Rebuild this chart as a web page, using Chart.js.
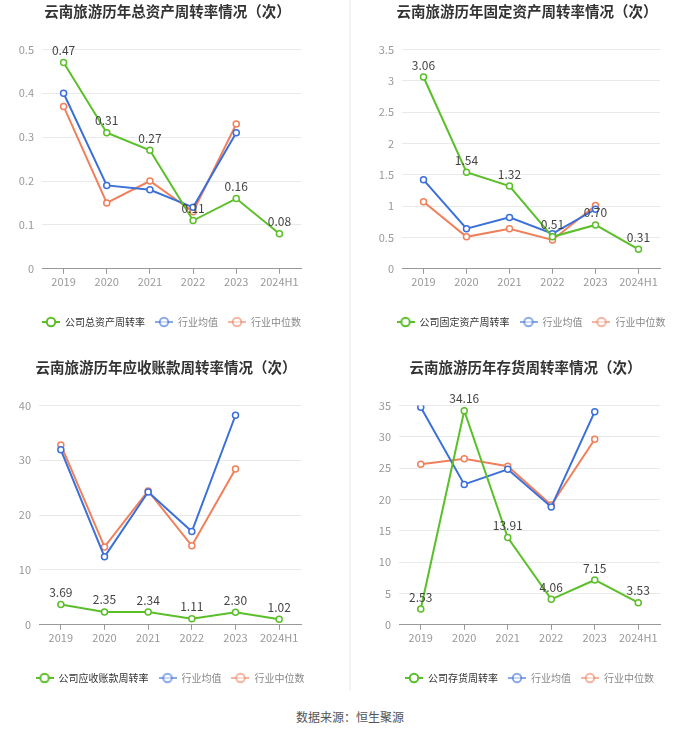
<!DOCTYPE html>
<html>
<head>
<meta charset="utf-8">
<script src="https://cdn.jsdelivr.net/npm/chart.js@4.4.1/dist/chart.umd.min.js"></script>
<style>
  body { margin: 0; background: #fff; width: 700px; height: 734px; position: relative; overflow: hidden;
         font-family: "Noto Sans CJK SC", sans-serif; }
  .box { position: absolute; width: 350px; height: 345px; }
  .sep { position: absolute; background: #f3f3f3; }
  #src { position: absolute; top: 708px; left: 0; width: 700px; text-align: center; font-size: 12px; color: #555; }
</style>
</head>
<body>
<div class="sep" style="left:349px;top:0;width:2px;height:690px"></div>
<div class="box" style="left:0;top:0"><canvas id="c1" width="350" height="345"></canvas></div>
<div class="box" style="left:350px;top:0"><canvas id="c2" width="350" height="345"></canvas></div>
<div class="box" style="left:0;top:356px"><canvas id="c3" width="350" height="345"></canvas></div>
<div class="box" style="left:350px;top:356px"><canvas id="c4" width="350" height="345"></canvas></div>
<div id="src">数据来源：恒生聚源</div>
<script>
const years = ['2019', '2020', '2021', '2022', '2023', '2024H1'];

// 总资产周转率
const assetCo  = [0.47, 0.31, 0.27, 0.11, 0.16, 0.08];
const assetAvg = [0.40, 0.19, 0.18, 0.14, 0.31, null];
const assetMed = [0.37, 0.15, 0.20, 0.13, 0.33, null];

// 固定资产周转率
const fixedCo  = [3.06, 1.54, 1.32, 0.51, 0.70, 0.31];
const fixedAvg = [1.42, 0.64, 0.82, 0.56, 0.95, null];
const fixedMed = [1.07, 0.51, 0.64, 0.46, 1.01, null];

// 应收账款周转率
const recvCo  = [3.69, 2.35, 2.34, 1.11, 2.30, 1.02];
const recvAvg = [31.9, 12.4, 24.2, 17.0, 38.2, null];
const recvMed = [32.8, 14.2, 24.4, 14.4, 28.4, null];

// 存货周转率
const invCo  = [2.53, 34.16, 13.91, 4.06, 7.15, 3.53];
const invAvg = [34.7, 22.4, 24.8, 18.8, 34.0, null];
const invMed = [25.6, 26.5, 25.3, 19.1, 29.6, null];

const GREEN = '#5bbf2a', BLUE = '#3b6fd9', ORANGE = '#f0805b';
const FONT = '"Noto Sans CJK SC", sans-serif';

function legendIcon(color, alpha) {
  const c = document.createElement('canvas');
  c.width = 18; c.height = 12;
  const g = c.getContext('2d');
  g.globalAlpha = alpha;
  g.strokeStyle = color; g.lineWidth = 2;
  g.beginPath(); g.moveTo(0, 6); g.lineTo(18, 6); g.stroke();
  g.beginPath(); g.arc(9, 6, 4.2, 0, Math.PI * 2);
  g.fillStyle = '#fff'; g.fill(); g.stroke();
  return c;
}

const valueLabels = {
  id: 'valueLabels',
  afterDatasetsDraw(chart) {
    const ctx = chart.ctx;
    const meta = chart.getDatasetMeta(0);
    const vals = chart.data.datasets[0].data;
    ctx.save();
    ctx.font = '12px ' + FONT;
    ctx.fillStyle = '#444';
    ctx.textAlign = 'center';
    ctx.textBaseline = 'middle';
    meta.data.forEach((pt, i) => {
      ctx.fillText(vals[i].toFixed(2), pt.x, pt.y - 12);
    });
    ctx.restore();
  }
};

// legend and title are centred on the plot, not on the whole canvas
const centreBoxes = {
  id: 'centreBoxes',
  afterLayout(chart) {
    const a = chart.chartArea;
    const lg = chart.legend, tt = chart.titleBlock;
    const d = (a.left + a.right) / 2 - (lg.left + lg.right) / 2;
    lg.left += d; lg.right += d;
    tt.left += d - 4; tt.right += d - 4;
  }
};

function makeChart(id, title, coName, co, avg, med, max, step, leftW, rightPad) {
  const ds = (label, data, color) => ({
    label: label, data: data, borderColor: color, backgroundColor: '#fff',
    borderWidth: 2, pointRadius: 3, pointBorderWidth: 1.5, pointHoverRadius: 3,
    tension: 0, spanGaps: false
  });
  const icons = [legendIcon(GREEN, 1), legendIcon(BLUE, 0.6), legendIcon(ORANGE, 0.6)];
  new Chart(document.getElementById(id), {
    type: 'line',
    data: {
      labels: years,
      datasets: [ds(coName, co, GREEN), ds('行业均值', avg, BLUE), ds('行业中位数', med, ORANGE)]
    },
    options: {
      responsive: false,
      animation: false,
      layout: { padding: { left: 0, right: rightPad, top: 0, bottom: 8 } },
      plugins: {
        title: {
          display: true, text: title, color: '#333',
          font: { size: 14.5, weight: 'bold', family: FONT },
          padding: { top: 3, bottom: 29 }
        },
        legend: {
          position: 'bottom',
          labels: {
            usePointStyle: true, pointStyleWidth: 18, padding: 10,
            font: { size: 10, family: FONT },
            generateLabels(chart) {
              return chart.data.datasets.map((d, i) => ({
                text: d.label, pointStyle: icons[i], datasetIndex: i,
                fontColor: i === 0 ? '#333' : '#888', lineWidth: 0,
                strokeStyle: 'transparent', fillStyle: 'transparent'
              }));
            }
          }
        },
        tooltip: { enabled: false }
      },
      scales: {
        x: {
          offset: true,
          afterFit(s) { s.height += 18; },
          grid: { display: true, drawOnChartArea: false, drawTicks: true, tickLength: 5, offset: false, color: '#999' },
          border: { display: true, color: '#999' },
          ticks: { color: '#999', font: { size: 11, family: FONT }, padding: 1,
                   maxRotation: 0, minRotation: 0, autoSkip: false }
        },
        y: {
          min: 0, max: max,
          afterFit(s) { s.width = leftW; },
          grid: { color: '#e9e9e9', drawTicks: false },
          border: { display: false },
          ticks: { stepSize: step, color: '#999', font: { size: 11, family: FONT }, padding: 8,
                   callback: v => String(+v.toFixed(2)) }
        }
      }
    },
    plugins: [valueLabels, centreBoxes]
  });
}

makeChart('c1', '云南旅游历年总资产周转率情况（次）', '公司总资产周转率', assetCo, assetAvg, assetMed, 0.5, 0.1, 42, 49);
makeChart('c2', '云南旅游历年固定资产周转率情况（次）', '公司固定资产周转率', fixedCo, fixedAvg, fixedMed, 3.5, 0.5, 52, 40);
makeChart('c3', '云南旅游历年应收账款周转率情况（次）', '公司应收账款周转率', recvCo, recvAvg, recvMed, 40, 10, 39, 49);
makeChart('c4', '云南旅游历年存货周转率情况（次）', '公司存货周转率', invCo, invAvg, invMed, 35, 5, 49, 40);
</script>
</body>
</html>
